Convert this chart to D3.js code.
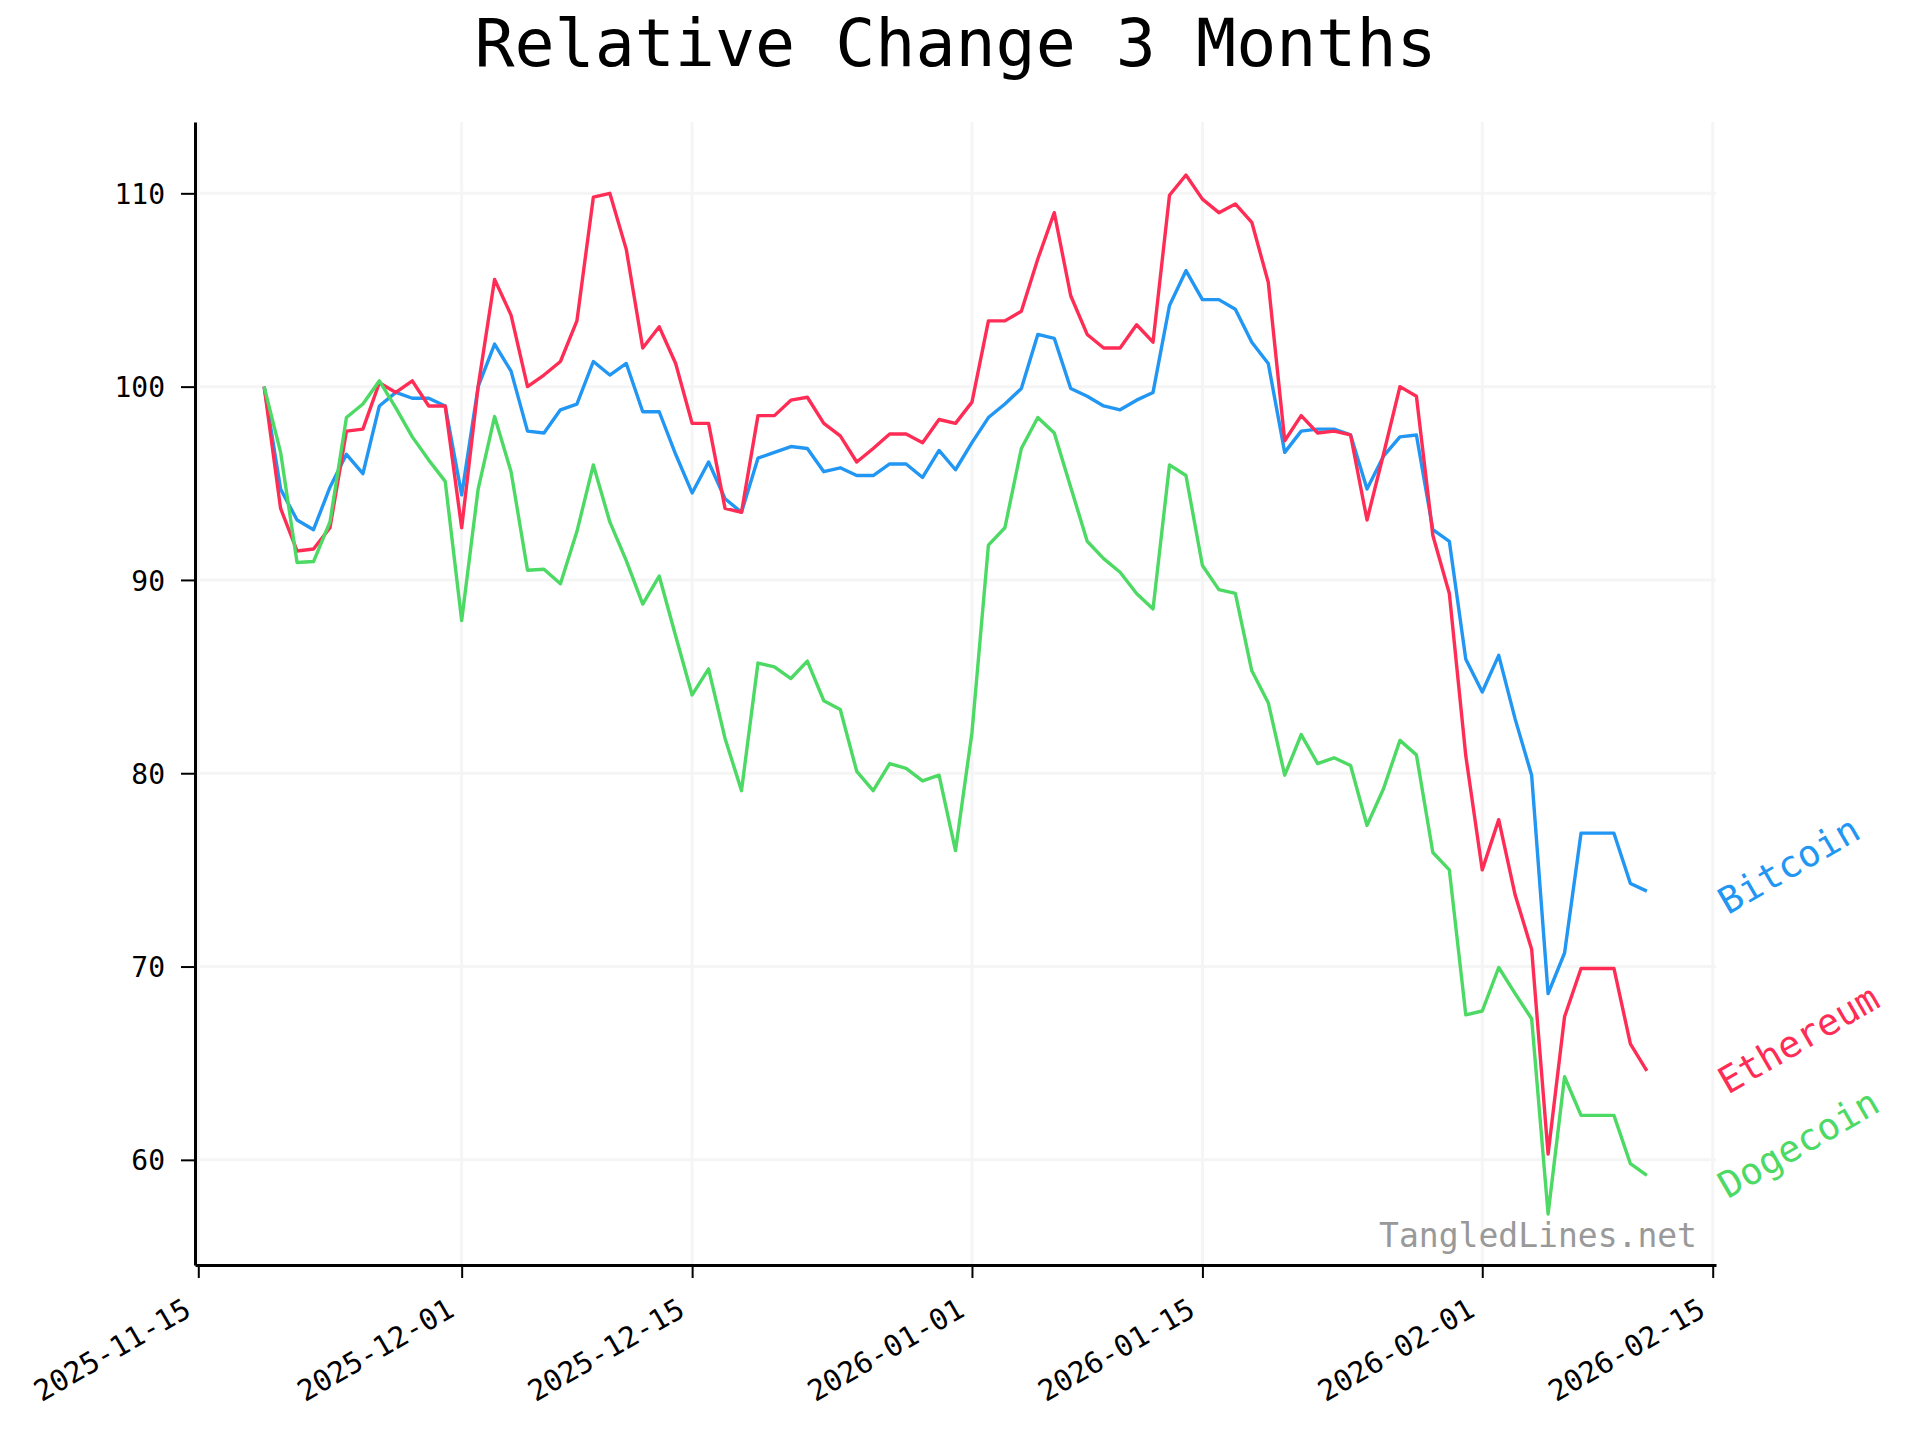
<!DOCTYPE html>
<html><head><meta charset="utf-8">
<script src="https://cdn.jsdelivr.net/npm/d3@7"></script>
<style>
body{margin:0;background:#fff}
svg{display:block}
text{font-family:"DejaVu Sans Mono",monospace}
</style>
</head><body>
<svg id="chart" width="1920" height="1440"></svg>
<script>
// ---- data ----
const startDate = "2025-11-19";   // first daily sample
const endDate   = "2026-02-11";   // last daily sample
const seriesNames  = ["Bitcoin", "Ethereum", "Dogecoin"];
const seriesColors = ["#2196F3", "#FF2D55", "#4CD964"];

const bitcoin = [100,94.7,93.1,92.6,94.8,96.5,95.5,99.0,99.7,99.4,99.4,99.0,94.4,100.0,102.2,100.8,97.7,97.6,98.8,99.1,
  101.3,100.6,101.2,98.7,98.7,96.5,94.5,96.1,94.2,93.5,96.3,96.6,96.9,96.8,95.6,95.8,95.4,95.4,96.0,96.0,
  95.3,96.7,95.7,97.1,98.4,99.1,99.9,102.7,102.5,99.9,99.5,99.0,98.8,99.3,99.7,104.2,106.0,104.5,104.5,104.0,
  102.3,101.2,96.6,97.7,97.8,97.8,97.5,94.7,96.4,97.4,97.5,92.6,92.0,85.9,84.2,86.1,82.8,79.9,68.6,70.7,
  76.9,76.9,76.9,74.3,73.9];
const ethereum = [100,93.7,91.5,91.6,92.7,97.7,97.8,100.2,99.7,100.3,99.0,99.0,92.7,100.0,105.55,103.7,100.0,100.6,101.3,103.4,
  109.8,110.0,107.1,102.0,103.1,101.2,98.1,98.1,93.7,93.5,98.5,98.5,99.3,99.45,98.1,97.45,96.1,96.8,97.55,97.55,
  97.1,98.3,98.1,99.2,103.4,103.4,103.9,106.6,109.0,104.7,102.7,102.0,102.0,103.2,102.3,109.9,110.95,109.7,109.0,109.45,
  108.5,105.4,97.2,98.5,97.6,97.7,97.5,93.1,96.5,100.0,99.5,92.3,89.3,80.9,75.0,77.6,73.7,70.9,60.3,67.4,
  69.9,69.9,69.9,66.0,64.6];
const dogecoin = [100,96.6,90.9,90.95,93.0,98.4,99.1,100.3,98.9,97.4,96.2,95.1,87.9,94.7,98.45,95.6,90.5,90.55,89.8,92.5,
  95.95,93.0,91.0,88.75,90.2,87.1,84.05,85.4,81.8,79.1,85.7,85.5,84.9,85.8,83.75,83.3,80.1,79.1,80.5,80.25,
  79.6,79.9,76.0,82.1,91.8,92.7,96.8,98.4,97.6,94.8,92.0,91.1,90.4,89.3,88.5,95.95,95.4,90.75,89.5,89.3,
  85.3,83.65,79.9,82.0,80.5,80.8,80.4,77.3,79.2,81.7,80.95,75.9,75.0,67.5,67.7,69.95,68.6,67.3,57.2,64.3,
  62.3,62.3,62.3,59.8,59.2];

const yTicks = [60, 70, 80, 90, 100, 110];
const xTickLabels = ["2025-11-15","2025-12-01","2025-12-15","2026-01-01","2026-01-15","2026-02-01","2026-02-15"];
const titleText = "Relative Change 3 Months";
const watermarkText = "TangledLines.net";

// ---- build ----
const parse = d3.timeParse("%Y-%m-%d");
const dates = d3.timeDay.range(parse(startDate), d3.timeDay.offset(parse(endDate), 1));
const seriesValues = [bitcoin, ethereum, dogecoin];
const series = seriesNames.map((name, k) => ({
  name, color: seriesColors[k],
  points: dates.map((d, i) => ({date: d, value: seriesValues[k][i]}))
}));

const pLeft = 195, pRight = 1716, pTop = 122, pBottom = 1265;
const pad = 4.2 * 864e5;
const x = d3.scaleTime()
  .domain([new Date(+dates[0] - pad), new Date(+dates[dates.length - 1] + pad)])
  .range([pLeft, pRight]);
const y = d3.scaleLinear().domain([54.56, 113.69]).range([pBottom, pTop]);

const svg = d3.select("#chart");
svg.append("rect").attr("width", 1920).attr("height", 1440).attr("fill", "#fff");

const xTickDates = xTickLabels.map(parse);

// grid
const grid = svg.append("g");
grid.selectAll("line.v").data(xTickDates).join("line").attr("class", "v")
  .attr("x1", d => x(d)).attr("x2", d => x(d)).attr("y1", pTop).attr("y2", pBottom)
  .attr("stroke", "#f5f5f5").attr("stroke-width", 3);
grid.selectAll("line.h").data(yTicks).join("line").attr("class", "h")
  .attr("x1", pLeft).attr("x2", pRight).attr("y1", d => y(d)).attr("y2", d => y(d))
  .attr("stroke", "#f5f5f5").attr("stroke-width", 3);

// lines
const line = d3.line().x(d => x(d.date)).y(d => y(d.value));
svg.append("g").selectAll("path").data(series).join("path")
  .attr("d", d => line(d.points))
  .attr("fill", "none").attr("stroke", d => d.color)
  .attr("stroke-width", 3.4).attr("stroke-linejoin", "round");

// axes
const fmt = d3.timeFormat("%Y-%m-%d");
const xAxis = svg.append("g").attr("transform", `translate(0,${pBottom})`)
  .call(d3.axisBottom(x).tickValues(xTickDates).tickFormat(fmt).tickSize(13).tickSizeOuter(0));
xAxis.select(".domain").attr("stroke", "#000").attr("stroke-width", 3);
xAxis.selectAll(".tick line").attr("stroke", "#000").attr("stroke-width", 2);
xAxis.selectAll(".tick text")
  .attr("x", 0).attr("y", 0).attr("dy", 0)
  .attr("transform", "translate(-6,50) rotate(-30)")
  .attr("text-anchor", "end")
  .attr("font-size", 29).attr("fill", "#000")
  .style("font-family", "'DejaVu Sans Mono', monospace");

const yAxis = svg.append("g").attr("transform", `translate(${pLeft},0)`)
  .call(d3.axisLeft(y).tickValues(yTicks).tickSize(14).tickPadding(16).tickSizeOuter(0));
yAxis.select(".domain").attr("stroke", "#000").attr("stroke-width", 3);
yAxis.selectAll(".tick line").attr("stroke", "#000").attr("stroke-width", 2);
yAxis.selectAll(".tick text")
  .attr("font-size", 28).attr("fill", "#000").attr("dy", "0.36em")
  .style("font-family", "'DejaVu Sans Mono', monospace");

// title
svg.append("text").attr("x", (pLeft + pRight) / 2).attr("y", 66)
  .attr("text-anchor", "middle").attr("font-size", 66.6).attr("fill", "#000")
  .text(titleText);

// end labels
const labelX = x(xTickDates[xTickDates.length - 1]) + 15;
svg.append("g").selectAll("text").data(series).join("text")
  .attr("transform", d => `translate(${labelX},${y(d.points[d.points.length - 1].value) + 24}) rotate(-30)`)
  .attr("font-size", 37).attr("fill", d => d.color)
  .text(d => d.name);

// watermark
svg.append("text").attr("x", 1697).attr("y", 1247)
  .attr("text-anchor", "end").attr("font-size", 33).attr("fill", "#999")
  .text(watermarkText);
</script>
</body></html>
